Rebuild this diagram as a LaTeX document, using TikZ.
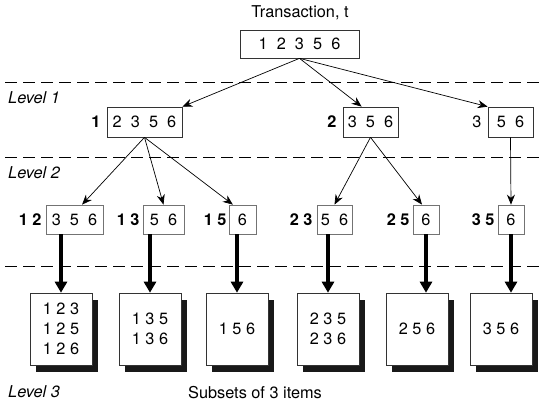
\documentclass[tikz,border=0pt]{standalone}
\usepackage{fontspec}
\setmainfont{TeX Gyre Heros}
\usetikzlibrary{positioning,arrows.meta,shadows}
\newcommand{\fnt}{\fontsize{16.3pt}{20pt}\selectfont}
\newcommand{\igap}{\hspace{0.56em}}

\tikzset{
  every node/.style={font=\fnt},
  tbox/.style={draw=black!80, line width=0.7pt, inner sep=0pt, minimum height=#1},
  lvlbox/.style={draw=black!55, line width=0.7pt, inner sep=0pt, minimum height=29pt},
  leafbox/.style={draw=black!80, fill=white, line width=0.6pt, align=center,
    minimum width=62pt, minimum height=72pt,
    drop shadow={shadow xshift=6pt, shadow yshift=-7pt, fill=black!90, opacity=1}},
  pre/.style={inner sep=0pt, font=\fnt\bfseries},
  lvl/.style={anchor=west, inner sep=0pt, font=\fnt\itshape},
  sep/.style={line width=0.8pt, dash pattern=on 12pt off 6pt},
  link/.style={line width=0.7pt, -{Stealth[length=10pt,width=8pt]}},
  fat/.style={line width=3.8pt, -{Triangle[length=11pt,width=12pt]}}
}

\begin{document}
\begin{tikzpicture}[x=1pt,y=-1pt]
\useasboundingbox (0,0) rectangle (544,406);

% separators and level names
\draw[sep] (5,82) -- (544,82);
\draw[sep] (5,157) -- (544,157);
\draw[sep] (5,266) -- (544,266);
\node[lvl] (lv1) at (8,98) {Level 1};
\node[lvl] (lv2) at (8,173) {Level 2};
\node[lvl] (lv3) at (8,392) {Level 3};

% transaction
\node (title) at (300,13) {Transaction, t};
\node[tbox=28pt, minimum width=119pt] (top) at (299.5,44) {1\igap2\igap3\igap5\igap6};

% level 1
\node[tbox=30pt, minimum width=75pt] (b1) at (144.5,122) {2\igap3\igap5\igap6};
\node[tbox=30pt, minimum width=55pt] (b2) at (370.5,122) {3\igap5\igap6};
\node[tbox=30pt, minimum width=45pt] (b3) at (510.5,122) {5\igap6};
\node[pre, left=6pt of b1] (p1) {1};
\node[pre, left=6pt of b2] (p2) {2};
\node[inner sep=0pt, left=6pt of b3] (p3) {3};

% level 2
\node[lvlbox, minimum width=57pt] (l2a) at (74.5,219.5) {3\igap5\igap6};
\node[lvlbox, minimum width=41pt] (l2b) at (163.5,219.5) {5\igap6};
\node[lvlbox, minimum width=27pt] (l2c) at (242.5,219.5) {6};
\node[lvlbox, minimum width=35pt] (l2d) at (334.5,219.5) {5\igap6};
\node[lvlbox, minimum width=26pt] (l2e) at (426,219.5) {6};
\node[lvlbox, minimum width=26pt] (l2f) at (511,219.5) {6};
\node[pre, left=4pt of l2a] (q1) {1 2};
\node[pre, left=3pt of l2b] (q2) {1 3};
\node[pre, left=2pt of l2c] (q3) {1 5};
\node[pre, left=4pt of l2d] (q4) {2 3};
\node[pre, left=3pt of l2e] (q5) {2 5};
\node[pre, left=3pt of l2f] (q6) {3 5};

% level 3
\node[leafbox] (l3a) at (61,329) {1 2 3\\1 2 5\\1 2 6};
\node[leafbox] (l3b) at (150,329) {1 3 5\\1 3 6};
\node[leafbox] (l3c) at (237,329) {1 5 6};
\node[leafbox] (l3d) at (328,329) {2 3 5\\2 3 6};
\node[leafbox] (l3e) at (417,329) {2 5 6};
\node[leafbox] (l3f) at (501,329) {3 5 6};
\node (subs) at (255,393) {Subsets of 3 items};

% arrows
\draw[link] (top.south) -- (b1.north east);
\draw[link] (top.south) -- (b2.120);
\draw[link] (top.south) -- (b3.north west);
\draw[link] (b1.south) -- (l2a.63);
\draw[link] (b1.south) -- (l2b.north);
\draw[link] (b1.south) -- (l2c.123);
\draw[link] (b2.south) -- (l2d.north);
\draw[link] (b2.south) -- (l2e.105);
\draw[link] (b3.south) -- (l2f.north);

\draw[fat] (l3a.north |- l2a.south) -- (l3a.north);
\draw[fat] (l3b.north |- l2b.south) -- (l3b.north);
\draw[fat] (l3c.north |- l2c.south) -- (l3c.north);
\draw[fat] (l3d.north |- l2d.south) -- (l3d.north);
\draw[fat] (l2e.south) -- (l2e.south |- l3e.north);
\draw[fat] (l2f.south) -- (l2f.south |- l3f.north);
\end{tikzpicture}
\end{document}
